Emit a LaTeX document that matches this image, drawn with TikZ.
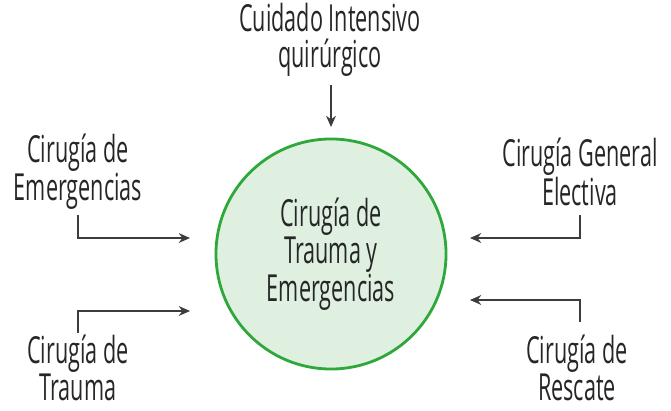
\documentclass[tikz,border=0pt]{standalone}
\usepackage{fontspec}
\setmainfont[FakeStretch=0.58]{Open Sans}
\usepackage{tikz}
\usetikzlibrary{arrows.meta}
\definecolor{surggreen}{RGB}{46,168,58}
\definecolor{surgfill}{RGB}{223,240,225}
\definecolor{surgline}{RGB}{60,60,60}

\tikzset{
    lbl/.style={align=center, font=\fontsize{26.5}{23.5}\selectfont, text=black!85, inner sep=0pt},
    flow/.style={draw=surgline, line width=0.9pt, -{Stealth[length=8pt,width=7pt]}}
}

\begin{document}
\begin{tikzpicture}[x=0.025cm, y=0.025cm]
    \useasboundingbox (0,0) rectangle (671,410);

    % Centre
    \node[circle, draw=surggreen, line width=2pt, fill=surgfill, minimum size=5.75cm, lbl] (trauma) at (331,156) {Cirugía de\\Trauma y\\Emergencias};

    % Sources
    \node[lbl, font=\fontsize{26.5}{26}\selectfont] (cuidado) at (330,370) {Cuidado Intensivo\\quirúrgico};
    \node[lbl] (emerg) at (78,238) {Cirugía de\\Emergencias};
    \node[lbl] (trau) at (78,42) {Cirugía de\\Trauma};
    \node[lbl] (electiva) at (580,238) {Cirugía General\\Electiva};
    \node[lbl] (rescate) at (577,42) {Cirugía de\\Rescate};

    % Arrow ends
    \coordinate (cuidadoA) at (331,325);
    \coordinate (cuidadoB) at (331,283);
    \coordinate (emergA) at (78,195);
    \coordinate (emergB) at (190,172);
    \coordinate (trauA) at (78,77);
    \coordinate (trauB) at (190,99);
    \coordinate (electivaA) at (580,195);
    \coordinate (electivaB) at (470,172);
    \coordinate (rescateA) at (580,88);
    \coordinate (rescateB) at (470,110);

    \draw[flow] (cuidadoA) -- (cuidadoB);
    \draw[flow] (emergA) |- (emergB);
    \draw[flow] (trauA) |- (trauB);
    \draw[flow] (electivaA) |- (electivaB);
    \draw[flow] (rescateA) |- (rescateB);
\end{tikzpicture}
\end{document}
